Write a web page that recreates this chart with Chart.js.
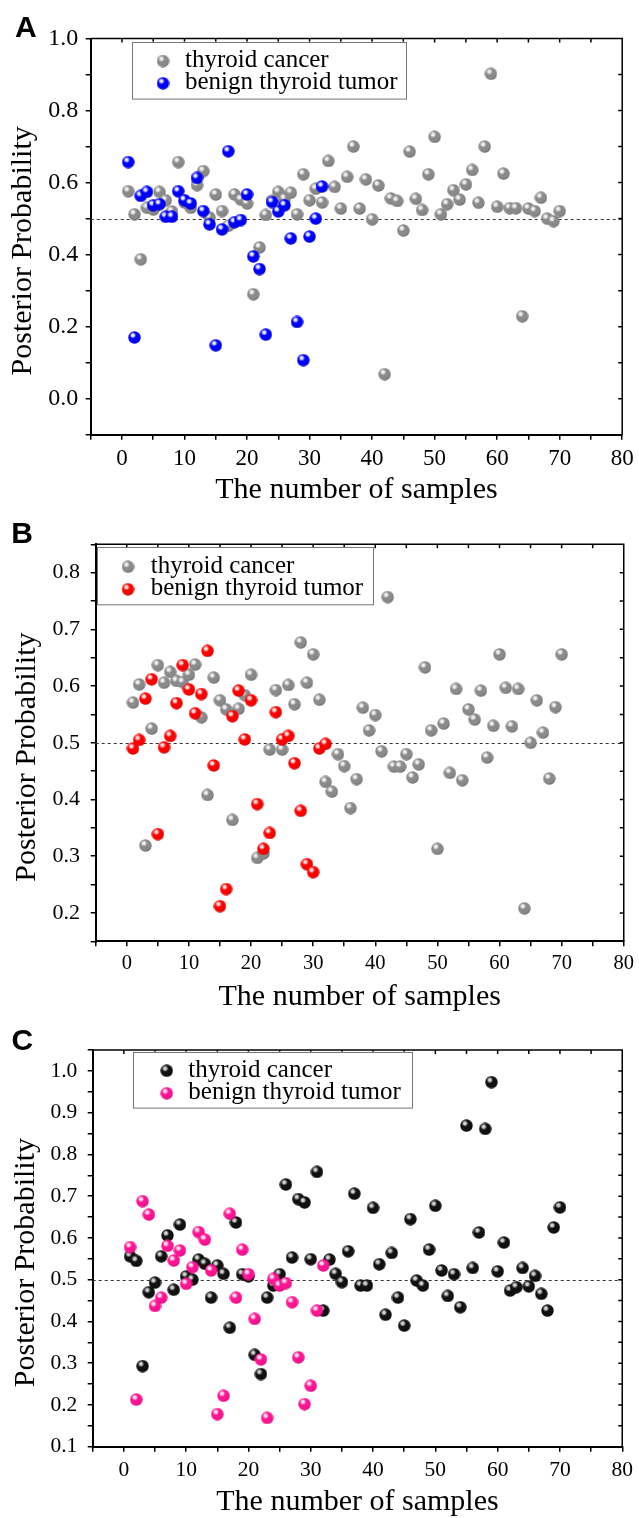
<!DOCTYPE html>
<html>
<head>
<meta charset="utf-8">
<title>Posterior Probability</title>
<script src="https://cdn.jsdelivr.net/npm/chart.js@4.4.1/dist/chart.umd.min.js"></script>
<style>
  body { margin: 0; background: #fff; }
  canvas { display: block; }
</style>
</head>
<body>
<canvas id="chartA" width="639" height="505"></canvas>
<canvas id="chartB" width="639" height="507"></canvas>
<canvas id="chartC" width="639" height="506"></canvas>
<script>
// === Data (x = sample number 1..n) ===
const xLabels = [0, 10, 20, 30, 40, 50, 60, 70, 80];

const cancerA = [
  0.576, 0.512, 0.387, 0.530, 0.525, 0.574, 0.551, 0.520, 0.657, 0.545,
  0.530, 0.593, 0.632, 0.503, 0.567, 0.521, 0.480, 0.567, 0.553, 0.542,
  0.290, 0.420, 0.510, 0.550, 0.574, 0.555, 0.572, 0.512, 0.623, 0.551,
  0.583, 0.545, 0.660, 0.588, 0.528, 0.616, 0.700, 0.528, 0.609, 0.498,
  0.592, 0.068, 0.556, 0.549, 0.467, 0.686, 0.555, 0.524, 0.623, 0.727,
  0.512, 0.540, 0.579, 0.553, 0.595, 0.635, 0.544, 0.700, 0.902, 0.533,
  0.625, 0.529, 0.529, 0.229, 0.528, 0.521, 0.558, 0.500, 0.493, 0.521
];
const benignA = [
  0.657, 0.170, 0.563, 0.574, 0.537, 0.540, 0.505, 0.505, 0.576, 0.551,
  0.542, 0.613, 0.521, 0.484, 0.148, 0.470, 0.687, 0.490, 0.496, 0.567,
  0.395, 0.360, 0.178, 0.546, 0.520, 0.537, 0.445, 0.213, 0.107, 0.450,
  0.500, 0.589
];
const yLabelsA = [0.0, 0.2, 0.4, 0.6, 0.8, 1.0];

const cancerB = [
  0.571, 0.603, 0.319, 0.525, 0.637, 0.606, 0.625, 0.609, 0.607, 0.620,
  0.638, 0.545, 0.408, 0.615, 0.575, 0.559, 0.364, 0.560, 0.584, 0.620,
  0.297, 0.305, 0.488, 0.593, 0.488, 0.602, 0.568, 0.677, 0.606, 0.656,
  0.576, 0.431, 0.414, 0.480, 0.459, 0.385, 0.436, 0.562, 0.522, 0.549,
  0.485, 0.757, 0.458, 0.458, 0.480, 0.439, 0.462, 0.633, 0.522, 0.313,
  0.534, 0.447, 0.595, 0.434, 0.559, 0.541, 0.592, 0.474, 0.530, 0.656,
  0.597, 0.529, 0.595, 0.208, 0.500, 0.575, 0.518, 0.437, 0.563, 0.656
];
const benignB = [
  0.490, 0.505, 0.578, 0.612, 0.339, 0.492, 0.512, 0.570, 0.637, 0.594,
  0.552, 0.586, 0.662, 0.460, 0.212, 0.242, 0.547, 0.592, 0.506, 0.575,
  0.392, 0.313, 0.341, 0.554, 0.506, 0.512, 0.464, 0.380, 0.286, 0.272,
  0.490, 0.498
];
const yLabelsB = [0.2, 0.3, 0.4, 0.5, 0.6, 0.7, 0.8];

const cancerC = [
  0.556, 0.545, 0.293, 0.470, 0.493, 0.556, 0.606, 0.476, 0.632, 0.508,
  0.500, 0.548, 0.538, 0.457, 0.534, 0.514, 0.385, 0.637, 0.513, 0.508,
  0.320, 0.274, 0.457, 0.486, 0.513, 0.728, 0.553, 0.693, 0.685, 0.549,
  0.758, 0.426, 0.548, 0.514, 0.494, 0.568, 0.706, 0.486, 0.486, 0.672,
  0.537, 0.416, 0.564, 0.457, 0.390, 0.645, 0.498, 0.486, 0.572, 0.677,
  0.522, 0.461, 0.513, 0.434, 0.869, 0.528, 0.613, 0.861, 0.973, 0.520,
  0.589, 0.474, 0.482, 0.528, 0.484, 0.509, 0.466, 0.426, 0.625, 0.673
];
const benignC = [
  0.578, 0.213, 0.688, 0.656, 0.437, 0.457, 0.581, 0.546, 0.570, 0.490,
  0.530, 0.614, 0.596, 0.522, 0.178, 0.222, 0.658, 0.457, 0.572, 0.513,
  0.406, 0.309, 0.169, 0.502, 0.486, 0.492, 0.446, 0.314, 0.202, 0.246,
  0.426, 0.534
];
const yLabelsC = [0.1, 0.2, 0.3, 0.4, 0.5, 0.6, 0.7, 0.8, 0.9, 1.0];

const serif = '"Liberation Serif", "Times New Roman", serif';

// shaded ball used as point style
function sphere(base, dark, shine) {
  const c = document.createElement('canvas');
  c.width = c.height = 13;
  const g = c.getContext('2d');
  const hx = 6.5 - 1.6, hy = 6.5 - 2.2;
  const grad = g.createRadialGradient(hx, hy, 0, hx, hy, 9.6);
  grad.addColorStop(0, shine);
  grad.addColorStop(0.12, shine);
  grad.addColorStop(0.34, base);
  grad.addColorStop(0.72, base);
  grad.addColorStop(1, dark);
  g.fillStyle = grad;
  g.beginPath();
  g.arc(6.5, 6.5, 6.2, 0, Math.PI * 2);
  g.fill();
  return c;
}
const grayBall = sphere('#8a8a8a', '#555555', '#f2f2f2');
const blueBall = sphere('#0000ff', '#0000a0', '#eef0ff');
const redBall = sphere('#ff0000', '#b00000', '#ffe8e8');
const blackBall = sphere('#111111', '#000000', '#d8d8d8');
const pinkBall = sphere('#ff1493', '#c0006a', '#ffe6f2');

const isLabel = (list, v) => list.some(l => Math.abs(l - v) < 1e-6);

// dashed 0.5 line, top/right frame, boxed legend, panel letter
const panelDeco = {
  id: 'panelDeco',
  beforeDatasetsDraw(chart) {
    const { ctx, chartArea: a, scales: { y } } = chart;
    const yy = Math.round(y.getPixelForValue(0.5)) + 0.5;
    ctx.save();
    ctx.strokeStyle = '#333';
    ctx.lineWidth = 1;
    ctx.setLineDash([3, 3]);
    ctx.beginPath();
    ctx.moveTo(a.left, yy);
    ctx.lineTo(a.right, yy);
    ctx.stroke();
    ctx.restore();
  },
  afterDraw(chart, args, opts) {
    const { ctx, chartArea: a, scales: { x, y } } = chart;
    ctx.save();
    ctx.strokeStyle = '#000';
    ctx.lineWidth = 1.5;
    ctx.beginPath();
    ctx.moveTo(a.left, a.top);
    ctx.lineTo(a.right, a.top);
    ctx.lineTo(a.right, a.bottom);
    x.ticks.forEach(t => {
      const px = x.getPixelForValue(t.value);
      ctx.moveTo(px, a.top);
      ctx.lineTo(px, a.top + 4);
    });
    y.ticks.forEach(t => {
      const py = y.getPixelForValue(t.value);
      ctx.moveTo(a.right, py);
      ctx.lineTo(a.right - 4, py);
    });
    ctx.stroke();

    const L = opts.legend;
    ctx.fillStyle = '#fff';
    ctx.fillRect(L.x, L.y, L.w, L.h);
    ctx.strokeStyle = '#777';
    ctx.lineWidth = 1;
    ctx.strokeRect(Math.round(L.x) + 0.5, Math.round(L.y) + 0.5, L.w, L.h);
    ctx.font = '25px ' + serif;
    ctx.fillStyle = '#000';
    ctx.textBaseline = 'alphabetic';
    chart.data.datasets.forEach((ds, i) => {
      const img = ds.pointStyle;
      ctx.drawImage(img, L.markerX - img.width / 2, L.rows[i] - img.height / 2);
      ctx.fillText(ds.label, L.textX, L.rows[i] + 6);
    });

    ctx.font = 'bold 30px "Liberation Sans", Arial, sans-serif';
    ctx.fillText(opts.letter, opts.letterX, opts.letterY);
    ctx.restore();
  }
};

function panel(id, cancer, benign, cancerBall, benignBall, yLabels, p, deco) {
  new Chart(document.getElementById(id), {
    type: 'scatter',
    data: {
      datasets: [{
        label: 'thyroid cancer',
        data: cancer.map((v, i) => ({ x: i + 1, y: v })),
        pointStyle: cancerBall,
        pointRadius: 6,
        order: 1
      }, {
        label: 'benign thyroid tumor',
        data: benign.map((v, i) => ({ x: i + 1, y: v })),
        pointStyle: benignBall,
        pointRadius: 6,
        order: 0
      }]
    },
    options: {
      responsive: false,
      animation: false,
      events: [],
      layout: { padding: { top: p.padTop, right: p.padRight, left: 0, bottom: 0 } },
      scales: {
        x: {
          type: 'linear',
          min: -5,
          max: 80,
          afterFit: s => { s.height = p.xHeight; },
          border: { display: true, color: '#000', width: 2 },
          grid: { drawOnChartArea: false, drawTicks: true, tickLength: 5, color: '#000', lineWidth: 1.5 },
          ticks: {
            stepSize: 5,
            autoSkip: false,
            maxRotation: 0,
            padding: p.xPad,
            color: '#000',
            font: { family: serif, size: p.xFont },
            callback: v => isLabel(xLabels, v) ? String(Math.round(v)) : ''
          },
          title: {
            display: true,
            text: 'The number of samples',
            color: '#000',
            font: { family: serif, size: 30, lineHeight: 1 },
            padding: { top: 0, bottom: p.xTitlePad }
          }
        },
        y: {
          type: 'linear',
          min: p.yMin,
          max: p.yMax,
          afterFit: s => { s.width = p.yWidth; },
          border: { display: true, color: '#000', width: 2 },
          grid: { drawOnChartArea: false, drawTicks: true, tickLength: 5, color: '#000', lineWidth: 1.5 },
          ticks: {
            stepSize: p.yStep,
            autoSkip: false,
            padding: p.yPad,
            color: '#000',
            font: { family: serif, size: p.yFont },
            callback: v => isLabel(yLabels, v) ? v.toFixed(1) : ''
          },
          title: {
            display: true,
            text: 'Posterior Probability\u00a0\u00a0\u00a0\u2009',
            color: '#000',
            font: { family: serif, size: 30, lineHeight: 1 },
            padding: { top: p.yTitlePad, bottom: 0 }
          }
        }
      },
      plugins: {
        legend: { display: false },
        tooltip: { enabled: false },
        panelDeco: deco
      }
    },
    plugins: [panelDeco]
  });
}

// === Painel A ===
panel('chartA', cancerA, benignA, grayBall, blueBall, yLabelsA,
  { yMin: -0.1, yMax: 1.0, yStep: 0.1, yWidth: 90.7, xHeight: 70.3, padTop: 38.5, padRight: 15.7,
    yFont: 24, yPad: 7.4, xFont: 23, xPad: 5.3, yTitlePad: 8.2, xTitlePad: 0 },
  { letter: 'A', letterX: 15, letterY: 37,
    legend: { x: 131.7, y: 41.7, w: 274, h: 56.6, markerX: 163, textX: 185, rows: [61, 83.3] } });

// === Painel B ===
panel('chartB', cancerB, benignB, grayBall, redBall, yLabelsB,
  { yMin: 0.15, yMax: 0.85, yStep: 0.05, yWidth: 95.7, xHeight: 70.7, padTop: 39.3, padRight: 10.7,
    yFont: 22, yPad: 10.7, xFont: 20.5, xPad: 5, yTitlePad: 12.2, xTitlePad: 0 },
  { letter: 'B', letterX: 11.3, letterY: 38.3,
    legend: { x: 97.3, y: 42, w: 276, h: 57.3, markerX: 128, textX: 150.7, rows: [61.7, 84.3] } });

// === Painel C ===
panel('chartC', cancerC, benignC, blackBall, pinkBall, yLabelsC,
  { yMin: 0.1, yMax: 1.05, yStep: 0.05, yWidth: 92.7, xHeight: 71.3, padTop: 38, padRight: 13.7,
    yFont: 21.5, yPad: 10.4, xFont: 21.5, xPad: 6, yTitlePad: 11.6, xTitlePad: 0.5 },
  { letter: 'C', letterX: 11.5, letterY: 38,
    legend: { x: 132.7, y: 39.7, w: 279, h: 55.6, markerX: 166.7, textX: 188.3, rows: [58.7, 81.3] } });
</script>
</body>
</html>
